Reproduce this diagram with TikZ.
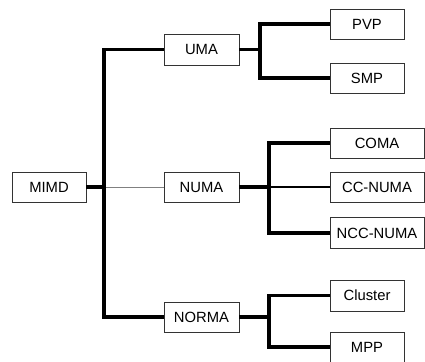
\documentclass[tikz,border=0pt]{standalone}
\usepackage{fontspec}
\setmainfont{Liberation Sans}
\begin{document}
\begin{tikzpicture}[x=1pt,y=1pt,
  box/.style={draw=black!80, line width=0.8pt, minimum height=30pt, inner sep=0pt, font=\fontsize{14.8}{16}\selectfont},
  sbox/.style={box, minimum width=74pt},
  mbox/.style={box, minimum width=75pt},
  wbox/.style={box, minimum width=94pt},
  thick link/.style={line width=3.1pt, line join=miter, line cap=butt},
  mid link/.style={line width=2pt},
  thin link/.style={line width=1pt, draw=black!50}]
\useasboundingbox (0,0) rectangle (425,-361);
\node[sbox] (mimd) at (49,-187) {MIMD};
\node[mbox, minimum height=31pt] (uma) at (201.5,-49.5) {UMA};
\node[mbox] (numa) at (201.5,-187) {NUMA};
\node[mbox] (norma) at (201.5,-317) {NORMA};
\node[sbox] (pvp) at (367,-24) {PVP};
\node[sbox] (smp) at (367,-78) {SMP};
\node[wbox] (coma) at (377,-143) {COMA};
\node[wbox] (ccnuma) at (377,-187) {CC-NUMA};
\node[wbox, minimum height=31pt] (nccnuma) at (377,-233) {NCC-NUMA};
\node[sbox, minimum height=31pt] (cluster) at (367,-295.5) {Cluster};
\node[sbox] (mpp) at (367,-347) {MPP};
\coordinate (t) at (104,-187);
\coordinate (u) at (260,-49.5);
\coordinate (n) at (269,-187);
\coordinate (r) at (269,-317);
\draw[thin link] (t) -- (numa.west);
\draw[thick link] (mimd.east) -- (t);
\draw[thick link] (uma.west) -| (t) |- (norma.west);
\draw[thick link] (uma.east) -- (u);
\draw[thick link] (pvp.west) -| (u) |- (smp.west);
\draw[mid link] (n) -- (ccnuma.west);
\draw[thick link] (numa.east) -- (n);
\draw[thick link] (coma.west) -| (n) |- (nccnuma.west);
\draw[thick link] (norma.east) -- (r);
\draw[thick link] (cluster.west) -| (r) |- (mpp.west);
\end{tikzpicture}
\end{document}
